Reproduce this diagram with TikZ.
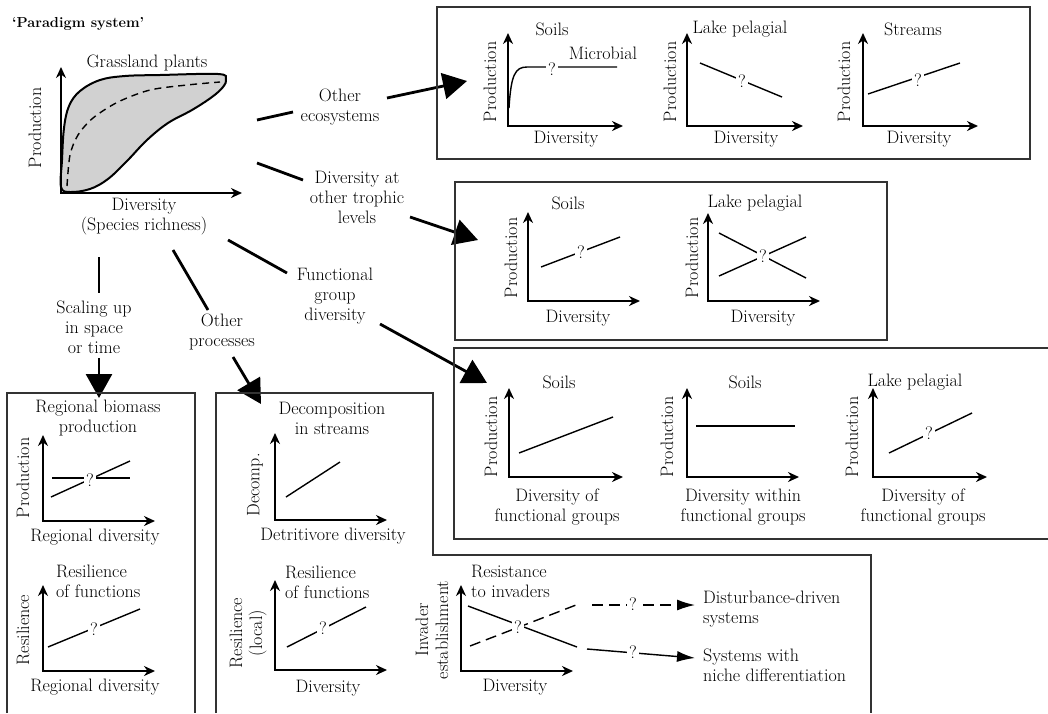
\documentclass[tikz,border=0pt]{standalone}
\usepackage{tikz}
\usetikzlibrary{arrows.meta}
\tikzset{
  lbl/.style = {font=\fontsize{18}{20}\selectfont, inner sep=0pt, align=center},
  ylbl/.style = {lbl, rotate=90},
  qm/.style = {lbl, fill=white, inner sep=2.5pt},
  axes/.style = {line width=2pt, {Stealth[length=11pt,width=10pt]}-{Stealth[length=11pt,width=10pt]}},
  trend/.style = {line width=1.4pt},
  dtrend/.style = {trend, dash pattern=on 11pt off 6pt},
  frame/.style = {line width=1.6pt, draw=black!80},
  link/.style = {line width=2.8pt},
  bigarrow/.style = {link, -{Triangle[length=24pt,width=26pt]}},
  smallarrow/.style = {-{Latex[length=18pt,width=11pt]}},
  blob/.style = {line width=2pt, fill=black!18}
}

\begin{document}
\begin{tikzpicture}[x=1pt, y=-1pt]
\useasboundingbox (0,0) rectangle (1048,713);

% Paradigm system
\node[lbl, anchor=west, font=\bfseries\fontsize{14.5}{16}\selectfont] (title) at (12,24) {‘Paradigm system’};
\draw[blob] plot[smooth cycle, tension=0.6] coordinates {(61,187) (62,160) (64,128) (69,106) (80,91) (100,80) (125,76) (160,75) (218,74) (226,79) (223,87) (212,97) (192,110) (168,123) (147,140) (127,161) (108,179) (90,189) (70,192)};
\draw[trend, dash pattern=on 7pt off 5pt] plot[smooth] coordinates {(67,186) (70,155) (78,135) (93,118) (118,102) (150,90) (187,85) (220,82)};
\draw[axes] (61,67) |- (242,193);
\node[lbl] (grass) at (147,63) {Grassland plants};
\node[ylbl] (prodP) at (35,128) {Production};
\node[lbl] (divP) at (144,217) {Diversity\\(Species richness)};

% Connectors
\coordinate (ecoA) at (257,120);  \coordinate (ecoB) at (293,112);
\coordinate (ecoC) at (387,98);   \coordinate (ecoD) at (467,81);
\coordinate (troA) at (257,163);  \coordinate (troB) at (303,180);
\coordinate (troC) at (410,217);  \coordinate (troD) at (478,240);
\coordinate (funA) at (228,240);  \coordinate (funB) at (287,273);
\coordinate (funC) at (380,324);  \coordinate (funD) at (487,383);
\coordinate (scaA) at (99,257);   \coordinate (scaB) at (99,293);
\coordinate (scaC) at (99,358);   \coordinate (scaD) at (99,398);
\coordinate (proA) at (173,250);  \coordinate (proB) at (208,310);
\coordinate (proC) at (233,357);  \coordinate (proD) at (261,404);

\node[lbl] (eco) at (340,107) {Other\\ecosystems};
\node[lbl] (tro) at (357,197) {Diversity at\\other trophic\\levels};
\node[lbl] (fun) at (335,296) {Functional\\group\\diversity};
\node[lbl] (sca) at (94,327) {Scaling up\\in space\\or time};
\node[lbl] (pro) at (222,332) {Other\\processes};

\draw[link] (ecoA) -- (ecoB);  \draw[bigarrow] (ecoC) -- (ecoD);
\draw[link] (troA) -- (troB);  \draw[bigarrow] (troC) -- (troD);
\draw[link] (funA) -- (funB);  \draw[bigarrow] (funC) -- (funD);
\draw[link] (scaA) -- (scaB);  \draw[bigarrow] (scaC) -- (scaD);
\draw[link] (proA) -- (proB);  \draw[bigarrow] (proC) -- (proD);

% Other ecosystems
\draw[frame] (437,7) rectangle (1030,159);
\draw[axes] (508,33) |- (623,126);
\draw[trend] (509,108) .. controls (511,75) and (515,67) .. (527,67) -- (617,67);
\node[qm] (qE1) at (552,69) {?};
\node[lbl] (soilsE) at (552,29) {Soils};
\node[lbl] (microE) at (603,53) {Microbial};
\node[ylbl] (prodE1) at (490,82) {Production};
\node[lbl] (divE1) at (566,139) {Diversity};

\draw[axes] (687,33) |- (803,126);
\draw[trend] (700,63) -- (782,97);
\node[qm] (qE2) at (742,81) {?};
\node[lbl] (lakeE) at (740,29) {Lake pelagial};
\node[ylbl] (prodE2) at (670,82) {Production};
\node[lbl] (divE2) at (746,139) {Diversity};

\draw[axes] (863,33) |- (978,126);
\draw[trend] (868,94) -- (960,63);
\node[qm] (qE3) at (918,80) {?};
\node[lbl] (streamE) at (913,29) {Streams};
\node[ylbl] (prodE3) at (844,82) {Production};
\node[lbl] (divE3) at (919,139) {Diversity};

% Other trophic levels
\draw[frame] (455,182) rectangle (887,340);
\draw[axes] (528,212) |- (640,301);
\draw[trend] (541,267) -- (620,237);
\node[qm] (qT1) at (581,252) {?};
\node[lbl] (soilsT) at (568,203) {Soils};
\node[ylbl] (prodT1) at (511,258) {Production};
\node[lbl] (divT1) at (578,318) {Diversity};

\draw[axes] (708,213) |- (820,301);
\draw[trend] (719,233) -- (806,278);
\draw[trend] (719,276) -- (806,237);
\node[qm] (qT2) at (763,256) {?};
\node[lbl] (lakeT) at (755,203) {Lake pelagial};
\node[ylbl] (prodT2) at (692,258) {Production};
\node[lbl] (divT2) at (763,318) {Diversity};

% Functional groups
\draw[frame] (1048,348) -- (454,348) -- (454,539) -- (1048,539);
\draw[axes] (509,388) |- (623,477);
\draw[trend] (519,453) -- (613,417);
\node[lbl] (soilsF1) at (559,382) {Soils};
\node[ylbl] (prodF1) at (491,437) {Production};
\node[lbl] (divF1) at (557,507) {Diversity of\\functional groups};

\draw[axes] (687,388) |- (799,477);
\draw[trend] (696,426) -- (795,426);
\node[lbl] (soilsF2) at (745,382) {Soils};
\node[ylbl] (prodF2) at (667,437) {Production};
\node[lbl] (divF2) at (743,507) {Diversity within\\functional groups};

\draw[axes] (873,388) |- (987,477);
\draw[trend] (889,453) -- (972,413);
\node[qm] (qF3) at (929,433) {?};
\node[lbl] (lakeF) at (915,382) {Lake pelagial};
\node[ylbl] (prodF3) at (852,437) {Production};
\node[lbl] (divF3) at (923,507) {Diversity of\\functional groups};

% Scaling up
\draw[frame] (7,713) -- (7,393) -- (195,393) -- (195,713);
\node[lbl] (regT) at (98,418) {Regional biomass\\production};
\draw[axes] (43,435) |- (155,521);
\draw[trend] (52,478) -- (130,478);
\draw[trend] (51,497) -- (130,461);
\node[qm] (qR1) at (90,480) {?};
\node[ylbl] (prodR) at (23,478) {Production};
\node[lbl] (divR1) at (95,537) {Regional diversity};

\node[lbl, anchor=west, align=left] (resR) at (56,581) {Resilience\\of functions};
\draw[axes] (43,585) |- (155,671);
\draw[trend] (48,647) -- (140,609);
\node[qm] (qR2) at (94,629) {?};
\node[ylbl] (resilR) at (23,630) {Resilience};
\node[lbl] (divR2) at (95,687) {Regional diversity};

% Other processes
\draw[frame] (216,713) -- (216,393) -- (433,393) -- (433,555) -- (871,555) -- (871,713);
\node[lbl] (decT) at (332,418) {Decomposition\\in streams};
\draw[axes] (275,433) |- (387,520);
\draw[trend] (286,497) -- (340,462);
\node[ylbl] (decY) at (255,485) {Decomp.};
\node[lbl] (divD) at (333,536) {Detritivore diversity};

\node[lbl, anchor=west, align=left] (resD) at (285,582) {Resilience\\of functions};
\draw[axes] (275,580) |- (387,670);
\draw[trend] (287,647) -- (366,607);
\node[qm] (qD) at (323,628) {?};
\node[ylbl] (resilD) at (248,633) {Resilience\\(local)};
\node[lbl] (divL) at (328,688) {Diversity};

\node[lbl, anchor=west, align=left] (invT) at (471,581) {Resistance\\to invaders};
\draw[axes] (461,585) |- (573,671);
\draw[trend] (468,606) -- (577,647);
\draw[dtrend] (470,646) -- (576,605);
\node[qm] (qI) at (518,627) {?};
\node[ylbl] (invY) at (432,630) {Invader\\establishment};
\node[lbl] (divI) at (515,687) {Diversity};

\coordinate (distA) at (592,605);  \coordinate (distB) at (695,605);
\coordinate (nichA) at (587,649);  \coordinate (nichB) at (695,658);
\node[lbl, anchor=west, align=left] (dist) at (703,609) {Disturbance-driven\\systems};
\node[lbl, anchor=west, align=left] (nich) at (703,665) {Systems with\\niche differentiation};
\draw[dtrend, smallarrow] (distA) -- (distB);
\draw[trend, smallarrow] (nichA) -- (nichB);
\node[qm] (qDist) at (633,604) {?};
\node[qm] (qNich) at (633,652) {?};

\end{tikzpicture}
\end{document}
